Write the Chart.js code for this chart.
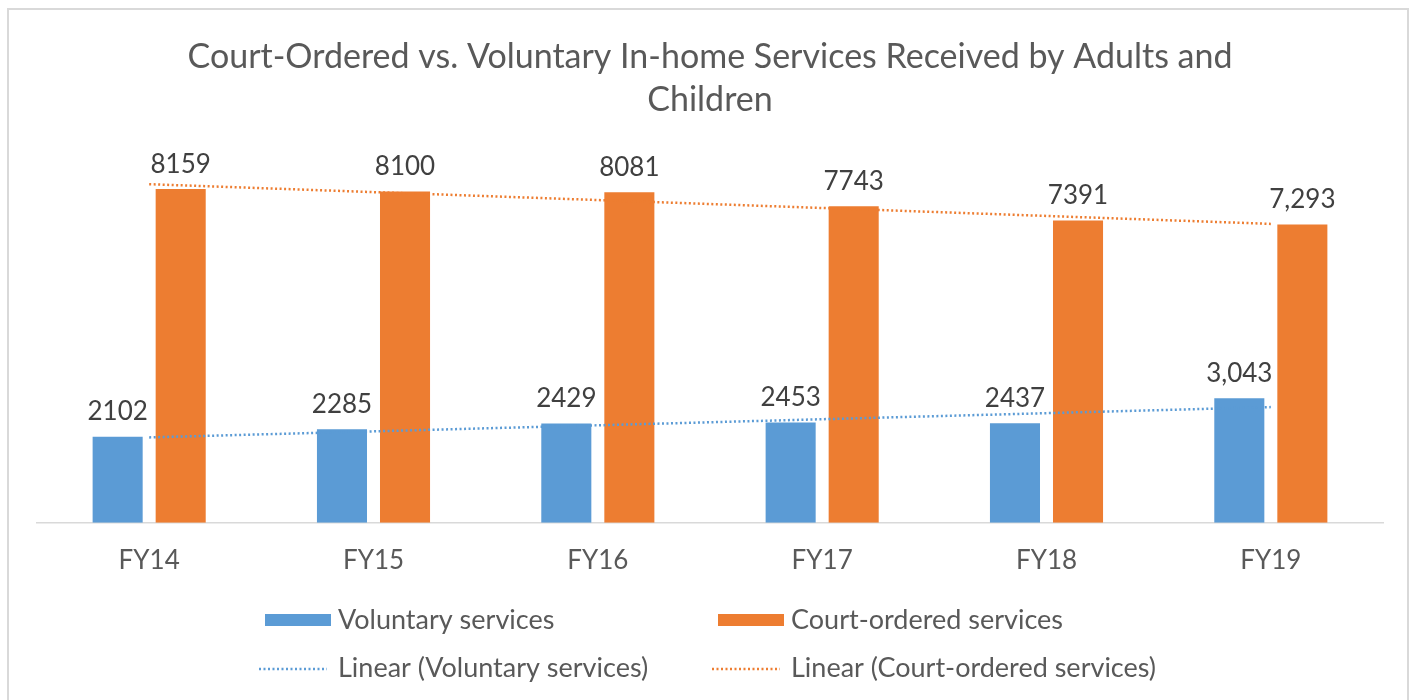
<!DOCTYPE html>
<html>
<head>
<meta charset="utf-8">
<title>Court-Ordered vs. Voluntary In-home Services</title>
<script src="https://cdn.jsdelivr.net/npm/chart.js@4.4.0/dist/chart.umd.min.js"></script>
<style>
    html, body { margin: 0; padding: 0; background: #ffffff; overflow: hidden; }
    .frame {
        position: absolute; left: 7px; top: 8px; width: 1402px; height: 720px;
        border: 2px solid #d9d9d9; box-sizing: border-box;
    }
    #chart { position: absolute; left: 0; top: 0; }
</style>
</head>
<body>
<div class="frame"></div>
<canvas id="chart" width="1413" height="700"></canvas>
<script>
// Dữ liệu biểu đồ
const years = ['FY14', 'FY15', 'FY16', 'FY17', 'FY18', 'FY19'];
const voluntary = [2102, 2285, 2429, 2453, 2437, 3043];
const courtOrdered = [8159, 8100, 8081, 7743, 7391, 7293];
const voluntaryLabels = ['2102', '2285', '2429', '2453', '2437', '3,043'];
const courtLabels = ['8159', '8100', '8081', '7743', '7391', '7,293'];
// Đường xu hướng: giá trị đầu (FY14) và cuối (FY19)
const voluntaryTrend = [2088, null, null, null, null, 2829];
const courtTrend = [8280, null, null, null, null, 7309];

const BLUE = '#5b9bd5';
const ORANGE = '#ed7d31';
const TEXT = '#595959';
const FONT = 'Lato, "Open Sans", sans-serif';

// Nhãn giá trị phía trên cột
const barLabels = {
    id: 'barLabels',
    afterDatasetsDraw(chart) {
        const ctx = chart.ctx;
        ctx.save();
        ctx.font = '26px ' + FONT;
        ctx.fillStyle = '#404040';
        ctx.textAlign = 'center';
        ctx.textBaseline = 'bottom';
        chart.data.datasets.forEach((ds, i) => {
            if (!ds.valueLabels) return;
            chart.getDatasetMeta(i).data.forEach((bar, j) => {
                ctx.fillText(ds.valueLabels[j], bar.x, bar.y - 12);
            });
        });
        ctx.restore();
    }
};

// Chú giải dạng lưới 2x2 như bản gốc
const gridLegend = {
    id: 'gridLegend',
    afterDraw(chart) {
        const ctx = chart.ctx;
        const cols = [265, 718];
        const rows = [620, 668];
        const items = [
            { text: 'Voluntary services', color: BLUE, bar: true },
            { text: 'Court-ordered services', color: ORANGE, bar: true },
            { text: 'Linear (Voluntary services)', color: BLUE, bar: false },
            { text: 'Linear (Court-ordered services)', color: ORANGE, bar: false }
        ];
        ctx.save();
        ctx.font = '27px ' + FONT;
        ctx.textBaseline = 'middle';
        items.forEach((item, k) => {
            const x = cols[k % 2];
            const y = rows[Math.floor(k / 2)];
            if (item.bar) {
                ctx.fillStyle = item.color;
                ctx.fillRect(x, y - 6, 66, 12);
            } else {
                ctx.strokeStyle = item.color;
                ctx.lineWidth = 2.5;
                ctx.setLineDash([2, 2.5]);
                ctx.beginPath();
                ctx.moveTo(x - 6, y + 1);
                ctx.lineTo(x + 62, y + 1);
                ctx.stroke();
                ctx.setLineDash([]);
            }
            ctx.fillStyle = TEXT;
            ctx.fillText(item.text, x + 73, y);
        });
        ctx.restore();
    }
};

new Chart(document.getElementById('chart'), {
    type: 'bar',
    data: {
        labels: years,
        datasets: [{
            label: 'Voluntary services',
            data: voluntary,
            valueLabels: voluntaryLabels,
            backgroundColor: BLUE,
            order: 2
        }, {
            label: 'Court-ordered services',
            data: courtOrdered,
            valueLabels: courtLabels,
            backgroundColor: ORANGE,
            order: 2
        }, {
            type: 'line',
            label: 'Linear (Voluntary services)',
            data: voluntaryTrend,
            borderColor: BLUE,
            borderWidth: 2.5,
            borderDash: [2, 2.5],
            pointRadius: 0,
            spanGaps: true,
            fill: false,
            order: 1
        }, {
            type: 'line',
            label: 'Linear (Court-ordered services)',
            data: courtTrend,
            borderColor: ORANGE,
            borderWidth: 2.5,
            borderDash: [2, 2.5],
            pointRadius: 0,
            spanGaps: true,
            fill: false,
            order: 1
        }]
    },
    options: {
        responsive: false,
        animation: false,
        categoryPercentage: 0.562,
        barPercentage: 0.794,
        layout: { padding: { left: 37, right: 30, top: 0, bottom: 102 } },
        plugins: {
            legend: { display: false },
            tooltip: { enabled: false },
            title: {
                display: true,
                text: ['Court-Ordered vs. Voluntary In-home Services Received by Adults and', 'Children'],
                color: TEXT,
                font: { family: FONT, size: 34, weight: 'normal', lineHeight: 1.26 },
                padding: { top: 36, bottom: 31 }
            }
        },
        scales: {
            x: {
                grid: { display: false, drawTicks: false },
                border: { display: true, color: '#d9d9d9', width: 1.5 },
                ticks: { color: TEXT, font: { family: FONT, size: 26 }, padding: 22 }
            },
            y: {
                display: false,
                min: 0,
                max: 9050
            }
        }
    },
    plugins: [barLabels, gridLegend]
});
</script>
</body>
</html>
